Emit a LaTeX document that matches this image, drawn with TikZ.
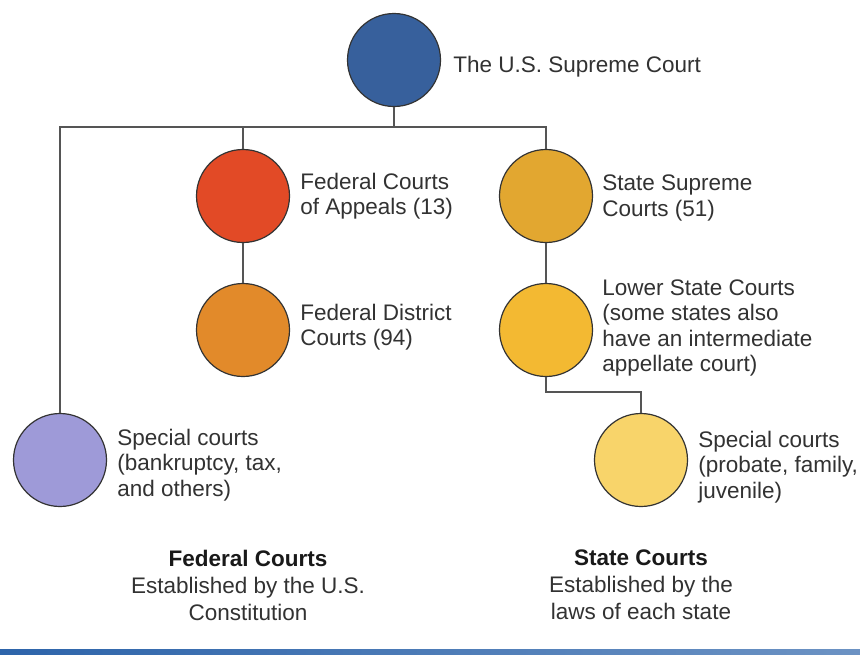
\documentclass[tikz,border=0pt]{standalone}
\usepackage{fontspec}
\setmainfont{Liberation Sans}
\usetikzlibrary{positioning}
\definecolor{courtblue}{RGB}{55,96,156}
\definecolor{courtred}{RGB}{226,74,38}
\definecolor{courtorange}{RGB}{226,138,42}
\definecolor{courtgold}{RGB}{226,167,48}
\definecolor{courtyellow}{RGB}{243,185,50}
\definecolor{courtpale}{RGB}{248,212,106}
\definecolor{courtlilac}{RGB}{158,154,216}
\definecolor{courtline}{RGB}{85,85,85}
\definecolor{courttext}{RGB}{50,50,50}
\definecolor{barblue}{RGB}{45,100,170}

\tikzset{
  court/.style={circle,draw=black!80,line width=1.2pt,minimum size=93pt,inner sep=0pt},
  courtlabel/.style={align=left,text=courttext,inner sep=0pt,
                     font=\fontsize{22.5}{25.5}\selectfont},
  caption/.style={align=center,text=courttext,inner sep=0pt,
                  font=\fontsize{22.5}{27}\selectfont},
  link/.style={draw=courtline,line width=2pt},
}

\begin{document}
\begin{tikzpicture}[x=1pt,y=-1pt]
            \path[fill=white] (0,0) rectangle (860,654);
            \useasboundingbox (0,0) rectangle (860,654);
            % Courts
            \node[court,fill=courtblue] (sc) at (394,60) {};
            \node[court,fill=courtred] (appeals) at (243,196) {};
            \node[court,fill=courtorange] (district) at (243,330) {};
            \node[court,fill=courtgold] (ssup) at (546,196) {};
            \node[court,fill=courtyellow] (slow) at (546,330) {};
            \node[court,fill=courtpale] (sspec) at (641,460) {};
            \node[court,fill=courtlilac] (fspec) at (60,460) {};
            % Connectors
            \coordinate (bus) at (394,127);
            \coordinate (elbow) at (546,392);
            \draw[link] (sc) -- (bus);
            \draw[link] (fspec) |- (ssup |- bus) -- (ssup);
            \draw[link] (appeals) -- (appeals |- bus);
            \draw[link] (appeals) -- (district);
            \draw[link] (ssup) -- (slow);
            \draw[link] (slow) -- (elbow) -| (sspec);
            % Labels
            \node[courtlabel,right=12pt of sc,yshift=-7pt] (sclabel)
                {The U.S. Supreme Court};
            \node[courtlabel,right=10pt of appeals] (appealslabel)
                {Federal Courts\\of Appeals (13)};
            \node[courtlabel,right=10pt of district,yshift=3pt] (districtlabel)
                {Federal District\\Courts (94)};
            \node[courtlabel,right=9pt of ssup,yshift=-2pt] (ssuplabel)
                {State Supreme\\Courts (51)};
            \node[courtlabel,right=9pt of slow,yshift=2pt] (slowlabel)
                {Lower State Courts\\(some states also\\have an intermediate\\appellate court)};
            \node[courtlabel,right=10pt of sspec,yshift=-7pt] (sspeclabel)
                {Special courts\\(probate, family,\\juvenile)};
            \node[courtlabel,right=10pt of fspec,yshift=-5pt] (fspeclabel)
                {Special courts\\(bankruptcy, tax,\\and others)};
            % Captions
            \node[caption] (fedcap) at (248,585)
                {\textcolor{black!90}{\textbf{Federal Courts}}\\Established by the U.S.\\Constitution};
            \node[caption] (statecap) at (641,585)
                {\textcolor{black!90}{\textbf{State Courts}}\\Established by the\\laws of each state};
            \shade[left color=barblue,right color=barblue!70!white]
                (0,649) rectangle (860,654);
        \end{tikzpicture}
\end{document}
